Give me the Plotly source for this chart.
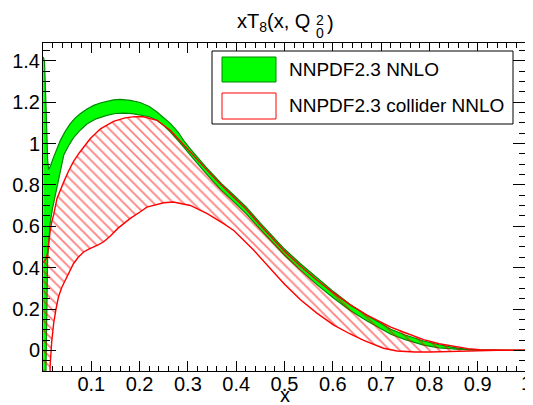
import numpy as np
import plotly.graph_objects as go

# ---------------- data ----------------
# NNPDF2.3 NNLO band (green): upper and lower edges
GU_X = [0.0005, 0.003, 0.006, 0.008, 0.0096, 0.0116, 0.015, 0.022, 0.029, 0.036, 0.046,
        0.0565, 0.067, 0.077, 0.091, 0.105, 0.12, 0.132, 0.146, 0.16, 0.181, 0.201, 0.22,
        0.236, 0.25, 0.264, 0.28, 0.291, 0.305, 0.319, 0.336, 0.353, 0.37, 0.388, 0.42,
        0.45, 0.5, 0.533, 0.567, 0.602, 0.636, 0.671, 0.7, 0.72, 0.75, 0.788, 0.82, 0.857,
        0.88, 0.9, 0.95, 1.0]
GU_Y = [1.42, 1.40, 1.20, 1.02, 0.92, 0.875, 0.89, 0.935, 0.975, 1.016, 1.06,
        1.097, 1.125, 1.145, 1.168, 1.185, 1.198, 1.206, 1.212, 1.214, 1.209, 1.199, 1.18,
        1.153, 1.127, 1.097, 1.055, 1.016, 0.975, 0.935, 0.89, 0.847, 0.805, 0.766, 0.695,
        0.615, 0.49, 0.419, 0.35, 0.283, 0.222, 0.169, 0.13, 0.102, 0.074, 0.045, 0.027, 0.011,
        0.005, 0.002, 0.0003, 0.0]

GL_X = [0.0005, 0.004, 0.006, 0.0075, 0.0085, 0.0095, 0.012, 0.015, 0.02, 0.028, 0.035,
        0.043, 0.053, 0.063, 0.077, 0.091, 0.11, 0.132, 0.15, 0.167, 0.185, 0.201, 0.22,
        0.236, 0.25, 0.264, 0.28, 0.291, 0.305, 0.319, 0.336, 0.353, 0.37, 0.388, 0.42,
        0.45, 0.5, 0.533, 0.567, 0.602, 0.636, 0.671, 0.7, 0.72, 0.75, 0.788, 0.82, 0.857,
        0.88, 0.9, 0.95, 1.0]
GL_Y = [-1.0, -0.4, -0.1, 0.15, 0.35, 0.44, 0.53, 0.62, 0.69, 0.774, 0.86,
        0.945, 0.99, 1.028, 1.065, 1.095, 1.12, 1.137, 1.146, 1.148, 1.145, 1.138, 1.13,
        1.113, 1.088, 1.056, 1.015, 0.984, 0.945, 0.905, 0.86, 0.815, 0.773, 0.734, 0.663,
        0.585, 0.46, 0.388, 0.318, 0.252, 0.193, 0.142, 0.105, 0.078, 0.052, 0.025, 0.012, 0.004,
        0.0015, 0.0005, 0.0, 0.0]

# NNPDF2.3 collider NNLO band (red hatched): upper and lower edges
RU_X = [0.0005, 0.006, 0.0095, 0.012, 0.015, 0.018, 0.022, 0.029, 0.036, 0.043, 0.053,
        0.063, 0.075, 0.084, 0.098, 0.119, 0.146, 0.17, 0.19, 0.208, 0.236, 0.264, 0.291,
        0.319, 0.353, 0.388, 0.42, 0.45, 0.5, 0.533, 0.567, 0.602, 0.636, 0.671, 0.7, 0.72,
        0.75, 0.788, 0.82, 0.857, 0.88, 0.905, 0.95, 1.0]
RU_Y = [0.425, 0.44, 0.47, 0.53, 0.58, 0.62, 0.655, 0.735, 0.78, 0.815, 0.868,
        0.913, 0.955, 0.984, 1.025, 1.072, 1.108, 1.125, 1.131, 1.13, 1.113, 1.064, 0.995,
        0.922, 0.838, 0.757, 0.685, 0.605, 0.48, 0.408, 0.34, 0.277, 0.22, 0.17, 0.135, 0.112,
        0.085, 0.052, 0.032, 0.016, 0.008, 0.003, 0.0005, 0.0]

RL_X = [0.0005, 0.008, 0.012, 0.015, 0.018, 0.022, 0.027, 0.032, 0.039, 0.046, 0.055,
        0.063, 0.073, 0.084, 0.095, 0.105, 0.115, 0.125, 0.139, 0.155, 0.18, 0.2, 0.215,
        0.25, 0.27, 0.305, 0.34, 0.374, 0.395, 0.436, 0.47, 0.5, 0.533, 0.567, 0.602, 0.636,
        0.664, 0.69, 0.705, 0.733, 0.77, 0.8, 0.84, 0.87, 0.9, 0.94, 1.0]
RL_Y = [-1.0, -0.5, -0.25, -0.065, 0.04, 0.129, 0.2, 0.258, 0.305, 0.339, 0.385,
        0.419, 0.45, 0.476, 0.49, 0.5, 0.512, 0.524, 0.552, 0.59, 0.637, 0.668, 0.693,
        0.714, 0.718, 0.701, 0.661, 0.613, 0.58, 0.485, 0.4, 0.32, 0.245, 0.18, 0.122, 0.079,
        0.048, 0.022, 0.01, -0.003, -0.008, -0.008, -0.006, -0.003, -0.001, 0.0, 0.0]

SERIES_NAMES = ["NNPDF2.3 NNLO", "NNPDF2.3 collider NNLO"]
TITLE_MAIN = "xT<sub>8</sub>(x, Q"
TITLE_SUB = "0"
TITLE_SUP = "2"
TITLE_END = ")"
X_TITLE = "x"

X_TICKS = [0.0, 0.1, 0.2, 0.3, 0.4, 0.5, 0.6, 0.7, 0.8, 0.9, 1.0]
X_TICK_TEXT = ["", "0.1", "0.2", "0.3", "0.4", "0.5", "0.6", "0.7", "0.8", "0.9", ""]
X_END_TICK, X_END_LABEL = 1.0, "1"
Y_TICKS = [0.0, 0.2, 0.4, 0.6, 0.8, 1.0, 1.2, 1.4]
Y_TICK_TEXT = ["0", "0.2", "0.4", "0.6", "0.8", "1", "1.2", "1.4"]
X_RANGE = [0.0, 1.0]
Y_RANGE = [-0.1, 1.487]

# ---------------- layout constants ----------------
# The page body has an 8 px margin, so the figure is made 8 px smaller and all
# page-pixel positions below are mapped through the plot area.
OFF = 8
W, H = 533 - OFF, 405 - OFF
PLOT_L, PLOT_R, PLOT_T, PLOT_B = 43, 526, 43, 371          # page pixels
ML, MR, MT, MB = PLOT_L - OFF, W + OFF - PLOT_R, PLOT_T - OFF, H + OFF - PLOT_B
PW, PH = PLOT_R - PLOT_L, PLOT_B - PLOT_T
FONT = "Liberation Sans, Arial, Helvetica, sans-serif"
GREEN_FILL = "#00FF00"
GREEN_LINE = "#008800"
RED = "#FF0000"


def pxx(px):
    return (px - PLOT_L) / PW


def pxy(py):
    return (PLOT_B - py) / PH


fig = go.Figure()

# green band
fig.add_trace(go.Scatter(
    x=GU_X + GL_X[::-1], y=GU_Y + GL_Y[::-1], fill="toself", fillcolor=GREEN_FILL,
    mode="lines", line=dict(width=0), hoverinfo="skip", showlegend=False))
for xs, ys in ((GU_X, GU_Y), (GL_X, GL_Y)):
    fig.add_trace(go.Scatter(x=xs, y=ys, mode="lines",
                             line=dict(color=GREEN_LINE, width=1.2),
                             hoverinfo="skip", showlegend=False))

# red hatched band
fig.add_trace(go.Scatter(
    x=RU_X + RL_X[::-1], y=RU_Y + RL_Y[::-1], fill="toself",
    fillcolor="rgba(0,0,0,0)",
    fillpattern=dict(shape="\\", fgcolor=RED, bgcolor="rgba(0,0,0,0)",
                     size=7, solidity=0.25),
    mode="lines", line=dict(width=0), hoverinfo="skip", showlegend=False))
for xs, ys in ((RU_X, RU_Y), (RL_X, RL_Y)):
    fig.add_trace(go.Scatter(x=xs, y=ys, mode="lines",
                             line=dict(color=RED, width=1.4),
                             hoverinfo="skip", showlegend=False))

# ---------------- hand-drawn legend (ROOT TLegend style) ----------------
shapes = []
shapes.append(dict(type="rect", xref="paper", yref="paper",
                   x0=pxx(212), x1=pxx(513), y0=pxy(124), y1=pxy(51),
                   line=dict(color="black", width=1), fillcolor="white", layer="above"))
shapes.append(dict(type="rect", xref="paper", yref="paper",
                   x0=pxx(222), x1=pxx(276), y0=pxy(82), y1=pxy(57),
                   line=dict(color=GREEN_LINE, width=1), fillcolor=GREEN_FILL, layer="above"))
sx0, sx1, sy0, sy1 = 222, 276, 93, 119
segs = []
for c in np.arange(sx0 - (sy1 - sy0), sx1 + 1, 7.0):
    ya = max(sy0, sx0 - c)
    yb = min(sy1, sx1 - c)
    if yb > ya:
        segs.append("M%.5f,%.5f L%.5f,%.5f" % (pxx(ya + c), pxy(ya), pxx(yb + c), pxy(yb)))
shapes.append(dict(type="path", xref="paper", yref="paper", path=" ".join(segs),
                   line=dict(color=RED, width=1), layer="above"))
shapes.append(dict(type="rect", xref="paper", yref="paper",
                   x0=pxx(sx0), x1=pxx(sx1), y0=pxy(sy1), y1=pxy(sy0),
                   line=dict(color=RED, width=1), fillcolor="rgba(0,0,0,0)", layer="above"))

tfont = dict(family=FONT, size=20, color="black")
sfont = dict(family=FONT, size=14, color="black")
annotations = [
    dict(text=SERIES_NAMES[0], xref="paper", yref="paper", x=pxx(287), y=pxy(70),
         xanchor="left", yanchor="middle", showarrow=False,
         font=dict(family=FONT, size=19, color="black")),
    dict(text=SERIES_NAMES[1], xref="paper", yref="paper", x=pxx(287), y=pxy(106),
         xanchor="left", yanchor="middle", showarrow=False,
         font=dict(family=FONT, size=19, color="black")),
    dict(text=TITLE_MAIN, xref="paper", yref="paper", x=pxx(312), y=pxy(23),
         xanchor="right", yanchor="middle", showarrow=False, font=tfont),
    dict(text=TITLE_SUP, xref="paper", yref="paper", x=pxx(320), y=pxy(20),
         xanchor="center", yanchor="middle", showarrow=False, font=sfont),
    dict(text=TITLE_SUB, xref="paper", yref="paper", x=pxx(320), y=pxy(33),
         xanchor="center", yanchor="middle", showarrow=False, font=sfont),
    dict(text=TITLE_END, xref="paper", yref="paper", x=pxx(325), y=pxy(23),
         xanchor="left", yanchor="middle", showarrow=False, font=tfont),
    dict(text=X_TITLE, xref="paper", yref="paper", x=0.5, y=pxy(395),
         xanchor="center", yanchor="middle", showarrow=False,
         font=dict(family=FONT, size=20, color="black")),
    dict(text=X_END_LABEL, xref="paper", yref="paper", x=pxx(PLOT_L + X_END_TICK * PW),
         y=pxy(383), xanchor="center", yanchor="middle", showarrow=False,
         font=dict(family=FONT, size=20, color="black")),
]

axis_common = dict(showline=True, linecolor="black", linewidth=1, mirror="allticks",
                   ticks="inside", tickcolor="black", showgrid=False, zeroline=False,
                   automargin=False, ticklabeloverflow="allow",
                   tickfont=dict(family=FONT, size=20, color="black"), fixedrange=True)

fig.update_layout(
    width=W, height=H, margin=dict(l=ML, r=MR, t=MT, b=MB, pad=0, autoexpand=False),
    paper_bgcolor="white", plot_bgcolor="white", showlegend=False,
    shapes=shapes, annotations=annotations,
    xaxis=dict(range=X_RANGE, tickmode="array", tickvals=X_TICKS, ticktext=X_TICK_TEXT,
               ticklen=10, tickwidth=1, ticklabelstandoff=-5,
               minor=dict(tickmode="array", tickvals=list(np.round(np.arange(0, 1.0001, 0.02), 3)),
                          ticks="inside", ticklen=5, tickcolor="black", showgrid=False),
               **axis_common),
    yaxis=dict(range=Y_RANGE, tickmode="array", tickvals=Y_TICKS, ticktext=Y_TICK_TEXT,
               ticklen=13, tickwidth=1, ticklabelstandoff=-2,
               minor=dict(tickmode="array", tickvals=list(np.round(np.arange(-0.1, 1.4801, 0.05), 3)),
                          ticks="inside", ticklen=7, tickcolor="black", showgrid=False),
               **axis_common),
)

fig.write_html("out.html")
